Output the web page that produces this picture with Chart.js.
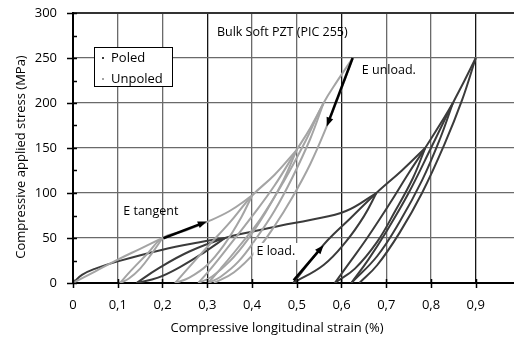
<!DOCTYPE html>
<html>
<head>
<meta charset="utf-8">
<script src="https://cdn.jsdelivr.net/npm/chart.js@4.4.1/dist/chart.umd.min.js"></script>
<style>
    html, body { margin: 0; padding: 0; background: #fff; }
    canvas { display: block; }
</style>
</head>
<body>
<canvas id="chartStrain" width="514" height="341"></canvas>
<script>
// strain (%) , stress (MPa)
const poledVirgin  = [[0,0],[0.02,9],[0.05,16],[0.1,24],[0.2,37],[0.28,45],[0.34,50]];
const poledUnload1 = [[0.34,50],[0.29,33],[0.24,18],[0.19,6],[0.142,0]];
const poledReload1 = [[0.142,0],[0.19,16],[0.26,35],[0.34,50],[0.40,57],[0.465,64],[0.53,70],[0.61,80],[0.678,100]];
const poledUnload2 = [[0.678,100],[0.65,74],[0.61,46],[0.56,20],[0.492,0]];
const poledReload2 = [[0.492,0],[0.53,24],[0.57,48],[0.62,72],[0.678,100],[0.735,125],[0.787,150]];
const poledUnload3 = [[0.787,150],[0.76,117],[0.72,80],[0.68,46],[0.63,16],[0.585,0]];
const poledReload3 = [[0.585,0],[0.62,24],[0.66,52],[0.71,90],[0.75,122],[0.787,150],[0.82,176],[0.849,200]];
const poledUnload4 = [[0.849,200],[0.82,160],[0.78,114],[0.73,68],[0.68,30],[0.622,0]];
const poledReload4 = [[0.622,0],[0.66,26],[0.70,57],[0.75,100],[0.80,150],[0.849,200],[0.875,225],[0.9,250]];
const poledUnload5 = [[0.9,250],[0.87,204],[0.83,154],[0.78,100],[0.73,56],[0.68,20],[0.64,0]];

const unpVirgin  = [[0,0],[0.05,13],[0.1,26],[0.15,38],[0.2,50]];
const unpUnload1 = [[0.2,50],[0.175,32],[0.15,16],[0.125,5],[0.105,0]];
const unpReload1 = [[0.105,0],[0.13,14],[0.165,32],[0.2,50],[0.25,58],[0.3,68],[0.35,80],[0.4,97]];
const unpUnload2 = [[0.4,97],[0.375,72],[0.34,44],[0.3,20],[0.26,6],[0.228,0]];
const unpReload2 = [[0.228,0],[0.26,18],[0.3,40],[0.35,67],[0.4,97],[0.45,120],[0.5,148]];
const unpUnload3 = [[0.5,148],[0.47,114],[0.43,78],[0.39,48],[0.35,24],[0.31,7],[0.28,0]];
const unpReload3 = [[0.28,0],[0.31,17],[0.35,42],[0.4,74],[0.45,108],[0.5,148],[0.53,172],[0.56,200]];
const unpUnload4 = [[0.56,200],[0.53,160],[0.49,117],[0.45,80],[0.41,50],[0.37,24],[0.33,7],[0.302,0]];
const unpReload4 = [[0.302,0],[0.33,16],[0.37,40],[0.42,72],[0.47,112],[0.52,158],[0.56,200],[0.59,224],[0.625,250]];
const unpUnload5 = [[0.625,250],[0.60,216],[0.567,174],[0.53,132],[0.49,95],[0.45,63],[0.41,36],[0.36,12],[0.315,0]];

const poledCurves = [poledVirgin, poledUnload1, poledReload1, poledUnload2, poledReload2,
    poledUnload3, poledReload3, poledUnload4, poledReload4, poledUnload5];
const unpoledCurves = [unpVirgin, unpUnload1, unpReload1, unpUnload2, unpReload2,
    unpUnload3, unpReload3, unpUnload4, unpReload4, unpUnload5];

const seriesNames = ['Poled', 'Unpoled'];
const seriesColors = ['#3b3b3b', '#a4a4a4'];

const xTicksMax = 0.9855;
const yTicks = [0, 50, 100, 150, 200, 250, 300];

// arrows: [from, to] in data units
const arrowUnload  = [[0.625,250],[0.567,174]];
const arrowTangent = [[0.202,49.7],[0.299,68.4]];
const arrowLoad    = [[0.493,3],[0.56,42]];

const FONT = '"Open Sans", "DejaVu Sans", sans-serif';

const datasets = [];
poledCurves.forEach(function(c) {
    datasets.push({
        label: seriesNames[0],
        data: c.map(function(p) { return {x: p[0], y: p[1]}; }),
        showLine: true, borderColor: seriesColors[0], borderWidth: 2,
        pointRadius: 0, tension: 0.4, order: 1
    });
});
unpoledCurves.forEach(function(c) {
    datasets.push({
        label: seriesNames[1],
        data: c.map(function(p) { return {x: p[0], y: p[1]}; }),
        showLine: true, borderColor: seriesColors[1], borderWidth: 2,
        pointRadius: 0, tension: 0.4, order: 0
    });
});

function drawArrow(ctx, x1, y1, x2, y2) {
    const a = Math.atan2(y2 - y1, x2 - x1);
    const len = 9, w = 3.5;
    ctx.save();
    ctx.strokeStyle = '#000';
    ctx.fillStyle = '#000';
    ctx.lineWidth = 2.5;
    ctx.beginPath();
    ctx.moveTo(x1, y1);
    ctx.lineTo(x2 - Math.cos(a) * len * 0.8, y2 - Math.sin(a) * len * 0.8);
    ctx.stroke();
    ctx.beginPath();
    ctx.moveTo(x2, y2);
    ctx.lineTo(x2 - Math.cos(a) * len + Math.sin(a) * w, y2 - Math.sin(a) * len - Math.cos(a) * w);
    ctx.lineTo(x2 - Math.cos(a) * len - Math.sin(a) * w, y2 - Math.sin(a) * len + Math.cos(a) * w);
    ctx.closePath();
    ctx.fill();
    ctx.restore();
}

const annotations = {
    id: 'annotations',
    afterDatasetsDraw: function(chart) {
        const ctx = chart.ctx;
        const xs = chart.scales.x, ys = chart.scales.y;
        const px = function(v) { return xs.getPixelForValue(v); };
        const py = function(v) { return ys.getPixelForValue(v); };

        [arrowUnload, arrowTangent, arrowLoad].forEach(function(a) {
            drawArrow(ctx, px(a[0][0]), py(a[0][1]), px(a[1][0]), py(a[1][1]));
        });

        ctx.save();
        ctx.font = '12.5px ' + FONT;
        ctx.textBaseline = 'middle';
        ctx.textAlign = 'left';

        // E load. sits on a white patch
        const lx = px(0.41), ly = py(35.6);
        const lw = ctx.measureText('E load.').width;
        ctx.fillStyle = '#fff';
        ctx.fillRect(lx - 3, ly - 8, lw + 6, 17);
        ctx.fillStyle = '#000';
        ctx.fillText('E load.', lx, ly);
        ctx.fillText('E unload.', px(0.6454), py(236));
        ctx.fillText('E tangent', px(0.1123), py(80));
        ctx.fillText('Bulk Soft PZT (PIC 255)', px(0.3216), py(278));

        // legend box
        ctx.fillStyle = '#fff';
        ctx.fillRect(94.5, 47.5, 78, 39);
        ctx.strokeStyle = '#000';
        ctx.lineWidth = 1;
        ctx.strokeRect(94.5, 47.5, 78, 39);
        ctx.fillStyle = seriesColors[0];
        ctx.fillRect(102, 57, 2, 2);
        ctx.fillStyle = seriesColors[1];
        ctx.fillRect(102, 78, 2, 2);
        ctx.fillStyle = '#000';
        ctx.font = '13px ' + FONT;
        ctx.fillText(seriesNames[0], 111, 58);
        ctx.fillText(seriesNames[1], 111, 79);
        ctx.restore();
    },
    afterDraw: function(chart) {
        const ctx = chart.ctx;
        const xs = chart.scales.x, ys = chart.scales.y;
        const area = chart.chartArea;
        ctx.save();
        ctx.strokeStyle = '#000';
        ctx.lineWidth = 1.5;
        ctx.beginPath();
        for (let v = 0; v < 1; v += 0.1) {
            const x = Math.round(xs.getPixelForValue(v)) + 0.5;
            if (x > area.right) break;
            ctx.moveTo(x, area.bottom - 4);
            ctx.lineTo(x, area.bottom + 5);
        }
        for (let v = 0; v <= 300; v += 25) {
            const y = Math.round(ys.getPixelForValue(v)) + 0.5;
            ctx.moveTo(v % 50 === 0 ? area.left - 6 : area.left, y);
            ctx.lineTo(area.left + 4, y);
        }
        ctx.stroke();

        // axis titles
        ctx.fillStyle = '#000';
        ctx.font = '13px ' + FONT;
        ctx.textAlign = 'center';
        ctx.textBaseline = 'middle';
        ctx.fillText('Compressive longitudinal strain (%)', 277, 328);
        ctx.translate(21, 157);
        ctx.rotate(-Math.PI / 2);
        ctx.fillText('Compressive applied stress (MPa)', 0, 0);
        ctx.restore();
    }
};

new Chart(document.getElementById('chartStrain'), {
    type: 'scatter',
    plugins: [annotations],
    data: { datasets: datasets },
    options: {
        responsive: false,
        animation: false,
        layout: { padding: { top: 13, right: 0, left: 0, bottom: 0 } },
        plugins: {
            legend: { display: false },
            tooltip: { enabled: false }
        },
        scales: {
            x: {
                type: 'linear',
                min: 0,
                max: xTicksMax,
                ticks: {
                    stepSize: 0.1,
                    includeBounds: false,
                    maxRotation: 0,
                    autoSkip: false,
                    padding: 14,
                    color: '#000',
                    font: { family: FONT, size: 13 },
                    callback: function(value) {
                        return String(Math.round(value * 10) / 10).replace('.', ',');
                    }
                },
                grid: {
                    drawTicks: false,
                    lineWidth: 1.3,
                    color: function(ctx) {
                        const k = Math.round(ctx.tick.value * 10);
                        return (k % 3 === 0 && k > 0) ? '#151515' : '#6a6a6a';
                    }
                },
                border: { color: '#000', width: 2 },
                afterFit: function(scale) {
                    scale.height = 58;
                    scale.paddingLeft = 0;
                    scale.paddingRight = 0;
                }
            },
            y: {
                min: 0,
                max: 300,
                afterBuildTicks: function(scale) {
                    scale.ticks = yTicks.map(function(v) { return {value: v}; });
                },
                ticks: {
                    padding: 16,
                    color: '#000',
                    font: { family: FONT, size: 13 }
                },
                grid: {
                    drawTicks: false,
                    color: function(ctx) {
                        return ctx.tick.value === 300 ? '#333' : '#6a6a6a';
                    },
                    lineWidth: function(ctx) {
                        return ctx.tick.value === 300 ? 2 : 1.3;
                    }
                },
                border: { color: '#000', width: 2 },
                afterFit: function(scale) {
                    scale.width = 73;
                    scale.paddingTop = 0;
                    scale.paddingBottom = 0;
                }
            }
        }
    }
});
</script>
</body>
</html>
